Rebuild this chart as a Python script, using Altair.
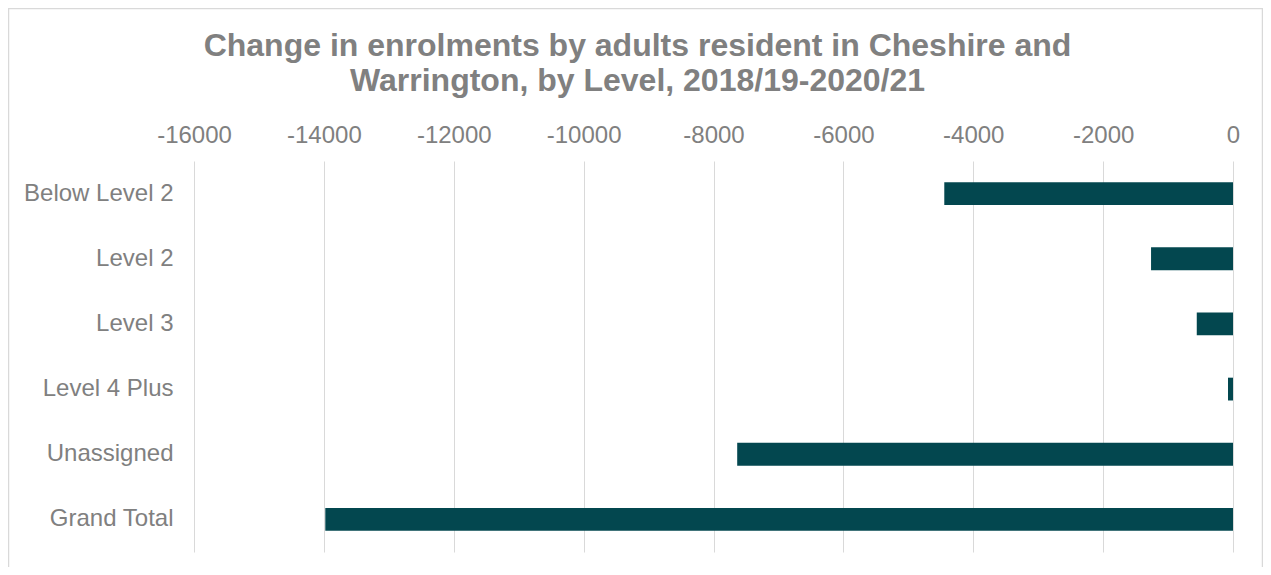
import altair as alt
import pandas as pd

levels = ["Below Level 2", "Level 2", "Level 3", "Level 4 Plus", "Unassigned", "Grand Total"]
changes = [-4446, -1262, -558, -77, -7635, -13978]
x_ticks = [-16000, -14000, -12000, -10000, -8000, -6000, -4000, -2000, 0]
title_lines = ["Change in enrolments by adults resident in Cheshire and",
               "Warrington, by Level, 2018/19-2020/21"]

df = pd.DataFrame({"Level": levels, "Change": changes})

FONT = "Liberation Sans"
GREY = "#808080"

bars = alt.Chart(df).mark_bar(color="#03474F").encode(
    x=alt.X(
        "Change:Q",
        scale=alt.Scale(domain=[-16000, 0], nice=False),
        axis=alt.Axis(
            orient="top", values=x_ticks, labelExpr="'' + datum.value",
            title=None, domain=False, ticks=False, grid=True,
            gridColor="#D9D9D9", gridWidth=1, labelFlush=False,
            labelFontSize=24, labelColor=GREY, labelFont=FONT,
            labelPadding=19, labelBaseline="alphabetic",
        ),
    ),
    y=alt.Y(
        "Level:N", sort=levels,
        scale=alt.Scale(paddingInner=0.65, paddingOuter=0.325),
        axis=alt.Axis(
            title=None, domain=False, ticks=False, grid=False,
            labelFontSize=24, labelColor=GREY, labelFont=FONT, labelPadding=21,
        ),
    ),
)

frame = alt.Chart(pd.DataFrame({"f": [0]})).mark_rect(
    fillOpacity=0, stroke="#D9D9D9", strokeWidth=1.5
).encode(
    x=alt.value(-185.5), x2=alt.value(1068.5),
    y=alt.value(-152.5), y2=alt.value(430),
)

chart = alt.layer(frame, bars).properties(
    width=1039,
    height=391,
    autosize=alt.AutoSizeParams(type="none"),
    padding={"left": 186, "top": 153, "right": 30, "bottom": 15},
    title=alt.TitleParams(
        title_lines, fontSize=32, font=FONT, fontWeight="bold", color=GREY,
        anchor="middle", frame="group", dx=-76, dy=115, offset=0,
        baseline="alphabetic", lineHeight=35,
    ),
).configure_view(strokeWidth=0)

chart.save("out.html", embed_options={"renderer": "svg", "actions": False})
